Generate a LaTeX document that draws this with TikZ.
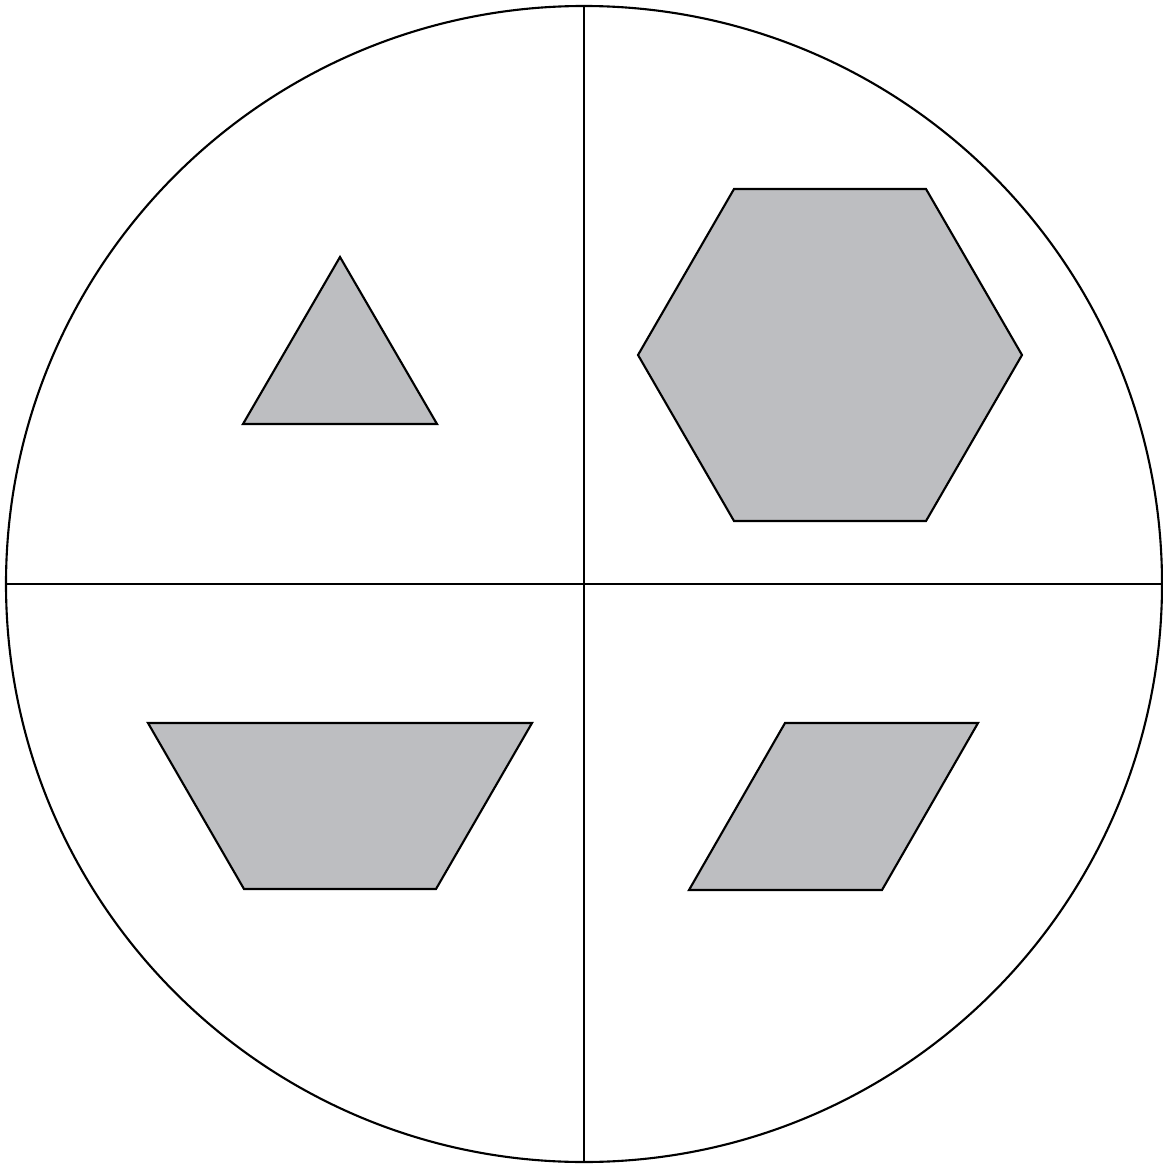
\documentclass[tikz,border=0pt]{standalone}
\usepackage{tikz}
\definecolor{tilegray}{RGB}{189,190,193}

\begin{document}
\begin{tikzpicture}[
  x=0.01cm, y=-0.01cm,
  rim/.style={draw, line width=0.6pt},
  tile/.style={draw, line width=0.6pt, fill=tilegray, line join=miter}
]
\useasboundingbox (0,0) rectangle (1162,1164);

% outer disc and the cross
\coordinate (c) at (584,584);
\draw[rim] (c) circle[radius=578];
\draw[rim] (584,6) -- (584,1162);
\draw[rim] (6,584) -- (1162,584);

% triangle, upper left
\draw[tile] (340,257) -- (437,424) -- (243,424) -- cycle;

% hexagon, upper right
\draw[tile] (734,189) -- (926,189) -- (1022,355) -- (926,521) -- (734,521) -- (638,355) -- cycle;

% trapezoid, lower left
\draw[tile] (148,723) -- (532,723) -- (436,889) -- (244,889) -- cycle;

% rhombus, lower right
\draw[tile] (785,723) -- (978,723) -- (882,890) -- (689,890) -- cycle;

\end{tikzpicture}
\end{document}
